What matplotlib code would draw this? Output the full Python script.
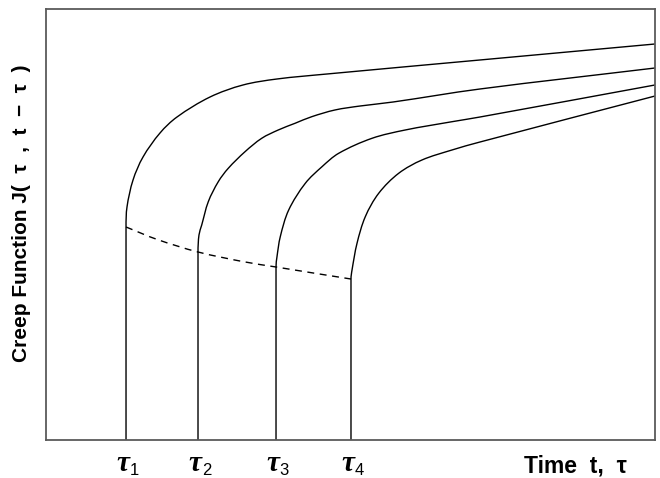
import matplotlib
matplotlib.use("Agg")
import numpy as np
import matplotlib.pyplot as plt
import matplotlib.transforms as mtransforms
from matplotlib.path import Path
from matplotlib.patches import PathPatch

# Loading ages (time axis, 0-100 units)
tau_labels = ["1", "2", "3", "4"]
tau_values = [13.14, 24.96, 37.77, 50.08]

# Creep curves J(tau, t - tau): time and compliance (0-100 units)
c1_t = [13.14, 13.14, 13.30, 14.29, 15.93, 18.72, 21.51, 26.93, 32.35, 37.93, 46.14, 71.26, 100.0]
c1_j = [0.0, 49.42, 54.06, 60.32, 65.66, 71.23, 74.94, 79.58, 82.37, 83.76, 84.92, 88.17, 91.88]

c2_t = [24.96, 24.96, 25.12, 25.57, 26.65, 28.29, 29.93, 32.68, 35.42, 38.14, 40.89, 43.63, 47.45, 51.56, 56.98, 71.26, 100.0]
c2_j = [0.0, 43.62, 47.56, 49.88, 55.29, 59.93, 63.04, 66.89, 70.00, 71.93, 73.48, 75.01, 76.57, 77.49, 78.42, 81.44, 86.31]

c3_t = [37.77, 37.77, 37.93, 38.47, 39.85, 42.58, 45.32, 48.06, 53.53, 59.00, 66.67, 71.26, 100.0]
c3_j = [0.0, 40.14, 42.53, 47.17, 53.36, 59.56, 63.41, 66.52, 70.00, 71.93, 73.85, 74.94, 82.37]

c4_t = [50.08, 50.08, 50.25, 51.07, 52.43, 54.63, 57.91, 61.74, 66.67, 71.26, 100.0]
c4_j = [0.0, 37.35, 39.44, 45.64, 51.81, 57.24, 61.88, 64.97, 67.29, 69.14, 79.81]

# Initial (elastic) compliance locus, dashed
init_t = [13.14, 18.23, 24.96, 32.51, 37.77, 44.17, 50.08]
init_j = [49.42, 46.54, 43.62, 41.35, 40.14, 38.68, 37.35]

SX, SY = 6.09, 4.31  # data-unit to pixel aspect for smooth tangents


def smooth_path(t, j, vertical_start=True):
    P = np.column_stack([np.asarray(t, float) * SX, np.asarray(j, float) * SY])
    verts = [P[0]]
    codes = [Path.MOVETO]
    k = 0
    if vertical_start:
        verts.append(P[1])
        codes.append(Path.LINETO)
        k = 1
    Q = P[k:]
    n = len(Q)
    T = np.zeros_like(Q)
    for i in range(n):
        if i == 0:
            d = Q[1] - Q[0]
        elif i == n - 1:
            d = Q[-1] - Q[-2]
        else:
            d = Q[i + 1] - Q[i - 1]
        T[i] = d / np.linalg.norm(d)
    if vertical_start:
        T[0] = np.array([0.0, 1.0])
    for i in range(n - 1):
        L = np.linalg.norm(Q[i + 1] - Q[i])
        verts += [Q[i] + T[i] * L / 3, Q[i + 1] - T[i + 1] * L / 3, Q[i + 1]]
        codes += [Path.CURVE4] * 3
    verts = np.array(verts) / np.array([SX, SY])
    return Path(verts, codes)


fig = plt.figure(figsize=(6.60, 4.78), dpi=100)
ax = fig.add_axes([46/660, 38/478, 609/660, 431/478])

for t, j in [(c1_t, c1_j), (c2_t, c2_j), (c3_t, c3_j), (c4_t, c4_j)]:
    ax.add_patch(PathPatch(smooth_path(t, j), facecolor="none", edgecolor="black",
                           lw=1.0, capstyle="butt", joinstyle="round"))
ax.add_patch(PathPatch(smooth_path(init_t, init_j, vertical_start=False), facecolor="none",
                       edgecolor="black", lw=1.0, linestyle=(0, (5, 4))))

ax.set_xlim(0, 100)
ax.set_ylim(0, 100)
ax.set_xticks([])
ax.set_yticks([])
for s in ax.spines.values():
    s.set_color("#5a5a5a")
    s.set_linewidth(1.3)

trans = mtransforms.blended_transform_factory(ax.transData, fig.transFigure)
for lab, tv in zip(tau_labels, tau_values):
    ax.text(tv - 0.5, 7/478, "τ", transform=trans, ha="center", va="baseline",
            fontsize=21, fontweight="bold", fontstyle="italic", family="Liberation Serif")
    ax.text(tv + 0.6, 3/478, lab, transform=trans, ha="left", va="baseline",
            fontsize=12, family="Liberation Sans")

fig.text(524/660, 5/478, "Time  t,  τ", ha="left", va="baseline",
         fontsize=16.5, fontweight="bold", family="Liberation Sans")
fig.text(22/660, 265/478, "Creep Function J(  τ  ,  t  −  τ  )", rotation=90,
         ha="center", va="center", fontsize=15, fontweight="bold", family="Liberation Sans")

fig.savefig("out.png", dpi=100)
